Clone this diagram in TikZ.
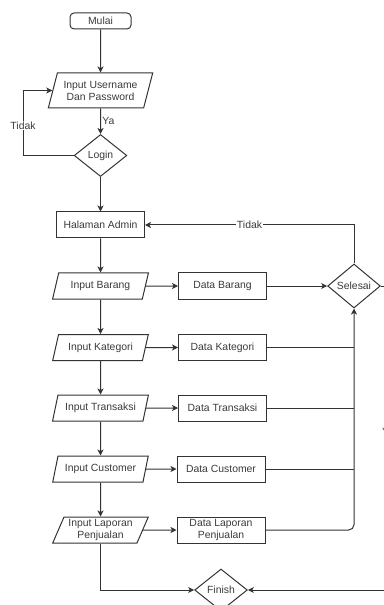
\documentclass[tikz,border=0pt]{standalone}
\usepackage{fontspec}
\setmainfont{Liberation Sans}
\usetikzlibrary{shapes.geometric, arrows.meta}
\definecolor{flowline}{HTML}{333333}
\definecolor{flowtext}{HTML}{3A3A3A}

\begin{document}
\begin{tikzpicture}[x=0.75pt, y=-0.75pt,
        every node/.style={font=\fontsize{7.8}{9}\selectfont, text=flowtext},
        proc/.style={rectangle, draw=flowline, line width=0.75pt, minimum width=66pt, minimum height=19.5pt, inner sep=1pt, align=center},
        term/.style={rectangle, rounded corners=3pt, draw=flowline, line width=0.75pt, minimum width=45.75pt, minimum height=12pt, inner sep=1pt},
        io/.style={trapezium, trapezium left angle=65, trapezium right angle=115, trapezium stretches=true, draw=flowline, line width=0.75pt, minimum width=72pt, minimum height=19.5pt, inner sep=0pt, align=center},
        dec/.style={diamond, draw=flowline, line width=0.75pt, minimum width=39.5pt, minimum height=31.5pt, inner sep=0pt, aspect=1.3},
        flow/.style={-{Stealth[length=4.5pt, width=4.5pt, inset=1.2pt]}, draw=flowline, line width=0.75pt},
        link/.style={draw=flowline, line width=0.75pt},
        lbl/.style={fill=white, inner sep=0.5pt}]
      \useasboundingbox (0,0) rectangle (384,605);
      \clip (0,0) rectangle (384,605);

      % Login
      \node[term] (mulai) at (100.5,21) {Mulai};
      \node[io, trapezium left angle=68, trapezium right angle=112, minimum width=78.75pt, minimum height=26.25pt] (user) at (100.5,90.5) {Input Username\\Dan Password};
      \node[dec] (login) at (100.5,155.5) {Login};
      \coordinate (tidakkiri) at (23,155.5);

      \draw[flow] (mulai) -- (user);
      \draw[flow] (user) -- (login) node[midway, right, inner sep=1pt] {Ya};
      \draw[flow] (login.west) -- (tidakkiri) |- (user.west) node[pos=0.23, lbl] {Tidak};

      % Menu admin
      \node[proc] (admin) at (100.5,225) {Halaman Admin};
      \node[io] (inbarang) at (100.5,286) {Input Barang};
      \node[io] (inkategori) at (100.5,347.5) {Input Kategori};
      \node[io] (intransaksi) at (100.5,408) {Input Transaksi};
      \node[io] (incustomer) at (100.5,469) {Input Customer};
      \node[io] (inlaporan) at (100.5,530) {Input Laporan\\Penjualan};

      \draw[flow] (login) -- (admin);
      \draw[flow] (admin) -- (inbarang);
      \draw[flow] (inbarang) -- (inkategori);
      \draw[flow] (inkategori) -- (intransaksi);
      \draw[flow] (intransaksi) -- (incustomer);
      \draw[flow] (incustomer) -- (inlaporan);

      % Data
      \node[proc] (databarang) at (222.5,286) {Data Barang};
      \node[proc] (datakategori) at (222.5,347.5) {Data Kategori};
      \node[proc] (datatransaksi) at (222.5,408) {Data Transaksi};
      \node[proc] (datacustomer) at (221,469) {Data Customer};
      \node[proc] (datalaporan) at (221,530) {Data Laporan\\Penjualan};

      \draw[flow] (inbarang) -- (databarang);
      \draw[flow] (inkategori) -- (datakategori);
      \draw[flow] (intransaksi) -- (datatransaksi);
      \draw[flow] (incustomer) -- (datacustomer);
      \draw[flow] (inlaporan) -- (datalaporan);

      % Selesai
      \node[dec, minimum height=33pt] (selesai) at (354,286) {Selesai};
      \node[dec] (finish) at (221,590) {Finish};
      \coordinate (yakanan) at (388,286);

      \draw[flow] (databarang) -- (selesai);
      \draw[link] (datakategori.east) -- (datakategori.east -| selesai.south);
      \draw[link] (datatransaksi.east) -- (datatransaksi.east -| selesai.south);
      \draw[link] (datacustomer.east) -- (datacustomer.east -| selesai.south);
      \draw[flow, rounded corners=4pt] (datalaporan.east) -| (selesai.south);
      \draw[flow] (selesai.north) |- (admin.east) node[pos=0.75, lbl] {Tidak};
      \draw[flow] (selesai.east) -- (yakanan) |- (finish.east) node[pos=0.24, lbl] {Ya};
      \draw[flow] (inlaporan.south) |- (finish.west);
    \end{tikzpicture}
\end{document}
